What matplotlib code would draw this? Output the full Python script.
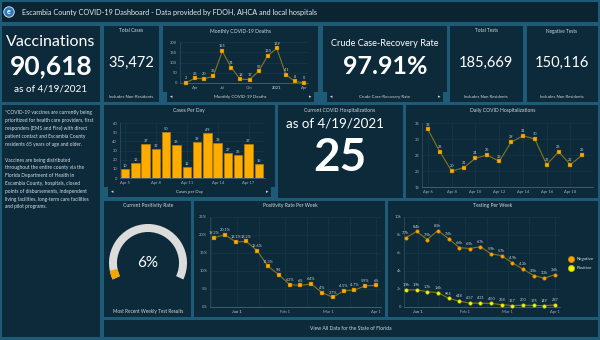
import datetime as dt
import matplotlib
matplotlib.use('Agg')
import matplotlib.pyplot as plt
import matplotlib.dates as mdates
from matplotlib.patches import Rectangle, Wedge
from matplotlib.lines import Line2D

plt.rcParams['font.family'] = ['Lato', 'DejaVu Sans']

W, H = 600, 340

GAP = '#1d5b76'
PANEL = '#0c2a3a'
HEADER = '#0a2431'
GOLD = '#ffac00'
YELLOW = '#f4f400'
LINE = '#857420'
TICK = '#9fb0b8'
GRID = '#19394a'
LABEL = '#c6cfd4'

# headline numbers
as_of = '4/19/2021'
vaccinations = 90618
total_cases = 35472
recovery_rate = 97.91
total_tests = 185669
negative_total = 150116
current_hosp = 25
current_positivity = 6

# monthly deaths, Mar 2020 .. Apr 2021
death_months = ['Mar', 'Apr', 'May', 'Jun', 'Jul', 'Aug', 'Sep',
                'Oct', 'Nov', 'Dec', 'Jan', 'Feb', 'Mar', 'Apr']
death_ticks = ['', 'Apr', '', '', 'Jul', '', '', 'Oct', '', '', '2021', '', '', 'Apr']
monthly_deaths = [2, 23, 20, 33, 155, 74, 18, 17, 57, 133, 169, 41, 8, 0]

# cases per day
case_days = ['Apr 5', 'Apr 6', 'Apr 7', 'Apr 8', 'Apr 9', 'Apr 10', 'Apr 11',
             'Apr 12', 'Apr 13', 'Apr 14', 'Apr 15', 'Apr 16', 'Apr 17', 'Apr 18']
cases_per_day = [10, 16, 37, 32, 50, 36, 12, 39, 49, 38, 27, 25, 37, 15]

# daily hospitalizations
hosp_days = ['Apr 6', 'Apr 7', 'Apr 8', 'Apr 9', 'Apr 10', 'Apr 11', 'Apr 12',
             'Apr 13', 'Apr 14', 'Apr 15', 'Apr 16', 'Apr 17', 'Apr 18', 'Apr 19']
daily_hosp = [33, 26, 20, 21, 24, 25, 23, 29, 31, 30, 22, 26, 22, 25]

# weekly positivity
pos_weeks = ['2020-12-17', '2020-12-24', '2020-12-31', '2021-01-07', '2021-01-14',
             '2021-01-21', '2021-01-28', '2021-02-04', '2021-02-11', '2021-02-18',
             '2021-02-25', '2021-03-04', '2021-03-11', '2021-03-18', '2021-03-25',
             '2021-04-01']
positivity = [19.2, 20.1, 18.1, 18.2, 15.6, 11.3, 9, 6.2, 6, 6.4, 4, 2.7, 4.5, 4.7, 5.9, 6]

# weekly testing
test_weeks = ['2020-12-24', '2020-12-31', '2021-01-07', '2021-01-14', '2021-01-21',
              '2021-01-28', '2021-02-04', '2021-02-11', '2021-02-18', '2021-02-25',
              '2021-03-04', '2021-03-11', '2021-03-18', '2021-03-25', '2021-04-01']
negative_tests = [7700, 8400, 7500, 8500, 7600, 6600, 6500, 6700, 5900, 5700,
                  4900, 4200, 3500, 3200, 3600]
positive_tests = [1900, 1900, 1700, 1600, 965, 648, 437, 421, 400, 258,
                  157, 200, 175, 149, 227]

month_ticks = ['2021-01-01', '2021-02-01', '2021-03-01', '2021-04-01']

info_text = [
    '*COVID-19 vaccines are currently being',
    'prioritized for health care providers, first',
    'responders (EMS and Fire) with direct',
    'patient contact and Escambia County',
    'residents 65 years of age and older.',
    '',
    'Vaccines are being distributed',
    'throughout the entire county via the',
    'Florida Department of Health in',
    'Escambia County, hospitals, closed',
    'points of disbursements, independent',
    'living facilities, long-term care facilities',
    'and pilot programs.',
]


def to_date(s):
    return dt.datetime.strptime(s, '%Y-%m-%d')


def fx(x):
    return x / W


def fy(y):
    return 1 - y / H


def panel(x0, y0, x1, y1, color=PANEL):
    fig.add_artist(Rectangle((fx(x0), fy(y1)), (x1 - x0) / W, (y1 - y0) / H,
                             transform=fig.transFigure, fc=color, ec='none', zorder=-1))


def text(x, y, s, size, color='white', **kw):
    kw.setdefault('ha', 'center')
    kw.setdefault('va', 'center')
    fig.text(fx(x), fy(y), s, fontsize=size, color=color, **kw)


def nav_bar(x0, x1, y0, y1, caption):
    panel(x0, y0, x1, y1)
    text(x0 + 4, (y0 + y1) / 2, '◂', 3.5, color='#d0d8dc')
    text(x1 - 4, (y0 + y1) / 2, '▸', 3.5, color='#d0d8dc')
    text((x0 + x1) / 2, (y0 + y1) / 2, caption, 3.2, color='#d0d8dc')


def chart(x0, y0, x1, y1):
    ax = fig.add_axes([fx(x0), fy(y1), (x1 - x0) / W, (y1 - y0) / H])
    ax.set_facecolor('none')
    for s in ['top', 'right']:
        ax.spines[s].set_visible(False)
    ax.spines['left'].set_color('#34505e')
    ax.spines['bottom'].set_color('#5a707c')
    ax.spines['left'].set_linewidth(0.5)
    ax.spines['bottom'].set_linewidth(0.5)
    ax.tick_params(length=0, labelsize=3, colors=TICK, pad=2)
    ax.grid(color=GRID, lw=0.4)
    ax.set_axisbelow(True)
    return ax


def gold_line(ax, xs, ys, face=GOLD, marker='s', edge='#7a5a00'):
    ax.plot(xs, ys, color=LINE, lw=0.8, marker=marker, ms=2.6,
            mfc=face, mec=edge, mew=0.3, clip_on=False, zorder=3)


def point_labels(ax, xs, ys, labels, dy=2.0):
    for x, y, s in zip(xs, ys, labels):
        ax.annotate(s, (x, y), xytext=(0, dy), textcoords='offset points',
                    ha='center', va='bottom', fontsize=2.8, color=LABEL,
                    annotation_clip=False, zorder=4)


def k_label(v):
    return f'{v / 1000:.1f}k' if v >= 1000 else str(v)


fig = plt.figure(figsize=(6, 3.4), dpi=100, facecolor=GAP)

# header
panel(2, 2, 598, 22, HEADER)
fig.text(fx(9), fy(12), 'e', fontsize=5, color='white', weight='bold', ha='center', va='center',
         bbox=dict(boxstyle='circle,pad=0.25', fc='#2e78c2', ec='#e8eef2', lw=0.6))
text(22, 12.5, 'Escambia County COVID-19 Dashboard - Data provided by FDOH, AHCA and local hospitals',
     5.2, color='#e6edf0', ha='left')

# vaccinations
panel(2, 26, 100, 102)
text(51, 42, 'Vaccinations', 11.5)
text(51, 66, f'{vaccinations:,}', 19, weight='bold')
text(51, 89, f'as of {as_of}', 7.2)

# info text
panel(2, 105, 100, 337)
fig.text(fx(5), fy(110), '\n'.join(info_text), fontsize=3.55, color='#d8e0e4',
         ha='left', va='top', linespacing=1.7)

# total cases
panel(104, 26, 159, 102)
text(131, 31, 'Total Cases', 3.4, color='#d0d8dc')
text(131, 63, f'{total_cases:,}', 10.5)
text(131, 97, 'Includes Non-Residents', 3.1, color='#d0d8dc')

# monthly deaths
panel(163, 26, 318, 92)
nav_bar(167, 314, 92, 102, 'Monthly COVID-19 Deaths')
text(240, 31, 'Monthly COVID-19 Deaths', 3.6, color='#d0d8dc')
ax = chart(180, 42, 308, 83)
xs = range(len(death_months))
gold_line(ax, xs, monthly_deaths)
point_labels(ax, xs, monthly_deaths, [str(v) for v in monthly_deaths])
ax.set_ylim(0, 200)
ax.set_yticks([0, 50, 100, 150, 200])
ax.set_xlim(-0.66, 13.44)
ax.set_xticks(list(xs))
ax.set_xticklabels(death_ticks)
ax.get_xticklabels()[10].set_fontweight('bold')
ax.grid(axis='x', visible=False)

# crude case-recovery rate
panel(323, 26, 447, 92)
nav_bar(327, 443, 92, 102, 'Crude Case-Recovery Rate')
text(385, 43, 'Crude Case-Recovery Rate', 6.6)
text(385, 66, f'{recovery_rate:.2f}%', 18, weight='bold')

# total tests / negative tests
panel(450, 26, 523, 102)
text(486, 31, 'Total Tests', 3.4, color='#d0d8dc')
text(486, 63, f'{total_tests:,}', 10.5)
text(486, 97, 'Includes Non Residents', 3.1, color='#d0d8dc')
panel(527, 26, 598, 102)
text(562, 31, 'Negative Tests', 3.4, color='#d0d8dc')
text(562, 63, f'{negative_total:,}', 10.5)
text(562, 97, 'Includes Non Residents', 3.1, color='#d0d8dc')

# cases per day
panel(104, 105, 275, 187)
nav_bar(108, 271, 187, 197, 'Cases per Day')
text(189, 111, 'Cases Per Day', 3.6, color='#d0d8dc')
ax = chart(120, 123, 265, 178)
xs = range(len(case_days))
ax.bar(xs, cases_per_day, width=0.82, color=GOLD, edgecolor='#c98400', lw=0.4, zorder=3)
point_labels(ax, xs, cases_per_day, [str(v) for v in cases_per_day], dy=0.8)
ax.set_ylim(0, 60)
ax.set_yticks(range(0, 61, 10))
ax.set_xlim(-0.5, 13.6)
ax.set_xticks(list(xs)[::3])
ax.set_xticklabels(case_days[::3])

# current hospitalizations
panel(278, 105, 403, 198)
text(340, 111, 'Current COVID Hospitalizations', 3.6, color='#d0d8dc')
text(335, 124, f'as of {as_of}', 9.6)
text(340, 158, str(current_hosp), 33, weight='bold')

# daily hospitalizations
panel(406, 105, 598, 198)
text(503, 111, 'Daily COVID Hospitalizations', 3.6, color='#d0d8dc')
ax = chart(422, 123, 593, 187)
xs = range(len(hosp_days))
gold_line(ax, xs, daily_hosp)
point_labels(ax, xs, daily_hosp, [str(v) for v in daily_hosp])
ax.set_ylim(15, 35)
ax.set_yticks([15, 20, 25, 30, 35])
ax.set_xlim(-0.5, 13.9)
ax.set_xticks(list(xs)[::2])
ax.set_xticklabels(hosp_days[::2])

# current positivity gauge
panel(104, 201, 191, 317)
text(148, 205, 'Current Positivity Rate', 3.6, color='#d0d8dc')
text(148, 312, 'Most Recent Weekly Test Results', 3.4, color='#d0d8dc')
gx = fig.add_axes([fx(148 - 45), fy(263 + 45), 90 / W, 90 / H])
gx.set_xlim(-45, 45)
gx.set_ylim(-45, 45)
gx.axis('off')
g_start, g_end = 205, -25
g_span = g_start - g_end
gx.add_patch(Wedge((0, 0), 39, g_end, g_start, width=8, fc='#dcdcdc', ec='none'))
gx.add_patch(Wedge((0, 0), 39, g_start - g_span * current_positivity / 100, g_start,
                   width=8, fc='#f5a500', ec='none'))
text(148, 263, f'{current_positivity}%', 11, color='white')

# positivity per week
panel(194, 201, 385, 317)
text(290, 205, 'Positivity Rate Per Week', 3.6, color='#d0d8dc')
ax = chart(210, 217, 381, 307)
xs = [to_date(d) for d in pos_weeks]
gold_line(ax, xs, positivity)
point_labels(ax, xs, positivity, [f'{v:g}%' for v in positivity])
ax.set_ylim(0, 25)
ax.set_yticks(range(0, 26, 5))
ax.set_yticklabels([f'{v}%' for v in range(0, 26, 5)])
ax.set_xlim(mdates.date2num(xs[0]) - 2.6, mdates.date2num(xs[-1]) + 3.2)
ticks = [to_date(d) for d in month_ticks]
ax.set_xticks(ticks)
ax.set_xticklabels([f'{d:%b} {d.day}' for d in ticks])
ax.get_xticklabels()[0].set_fontweight('bold')
ax.set_xticks([to_date(d) for d in ['2020-12-15', '2021-01-15', '2021-02-15', '2021-03-15']], minor=True)
ax.tick_params(which='minor', length=0)
ax.grid(which='minor', axis='x', color=GRID, lw=0.4)

# testing per week
panel(388, 201, 598, 317)
text(493, 205, 'Testing Per Week', 3.6, color='#d0d8dc')
ax = chart(404, 217, 560, 307)
xs = [to_date(d) for d in test_weeks]
gold_line(ax, xs, negative_tests, face='#ffa200', marker='o', edge='#b87400')
gold_line(ax, xs, positive_tests, face=YELLOW, marker='o', edge='#a6a600')
point_labels(ax, xs, negative_tests, [k_label(v) for v in negative_tests])
point_labels(ax, xs, positive_tests, [k_label(v) for v in positive_tests])
ax.set_ylim(0, 10000)
ax.set_yticks(range(0, 10001, 2000))
ax.set_yticklabels(['0', '2k', '4k', '6k', '8k', '10k'])
ax.set_xlim(mdates.date2num(xs[0]) - 1.3, mdates.date2num(xs[-1]) + 3.3)
ax.set_xticks(ticks)
ax.set_xticklabels([f'{d:%b} {d.day}' for d in ticks])
ax.get_xticklabels()[0].set_fontweight('bold')
ax.set_xticks([to_date(d) for d in ['2021-01-15', '2021-02-15', '2021-03-15']], minor=True)
ax.tick_params(which='minor', length=0)
ax.grid(which='minor', axis='x', color=GRID, lw=0.4)
handles = [Line2D([], [], ls='', marker='o', ms=4.5, mfc='#ffa200', mec='#c98000', mew=0.5),
           Line2D([], [], ls='', marker='o', ms=4.5, mfc=YELLOW, mec='#b8b800', mew=0.5)]
ax.legend(handles, ['Negative', 'Positive'], loc='center left',
          bbox_to_anchor=(fx(565), fy(263.5)), bbox_transform=fig.transFigure,
          frameon=False, fontsize=3.2, labelcolor='#dfe6e9',
          handletextpad=0.2, labelspacing=1.1, borderaxespad=0)

# bottom link bar
panel(104, 320, 598, 337)
text(351, 328, 'View All Data for the State of Florida', 3.6, color='#d0d8dc')

fig.savefig('out.png', dpi=100, facecolor=GAP)
